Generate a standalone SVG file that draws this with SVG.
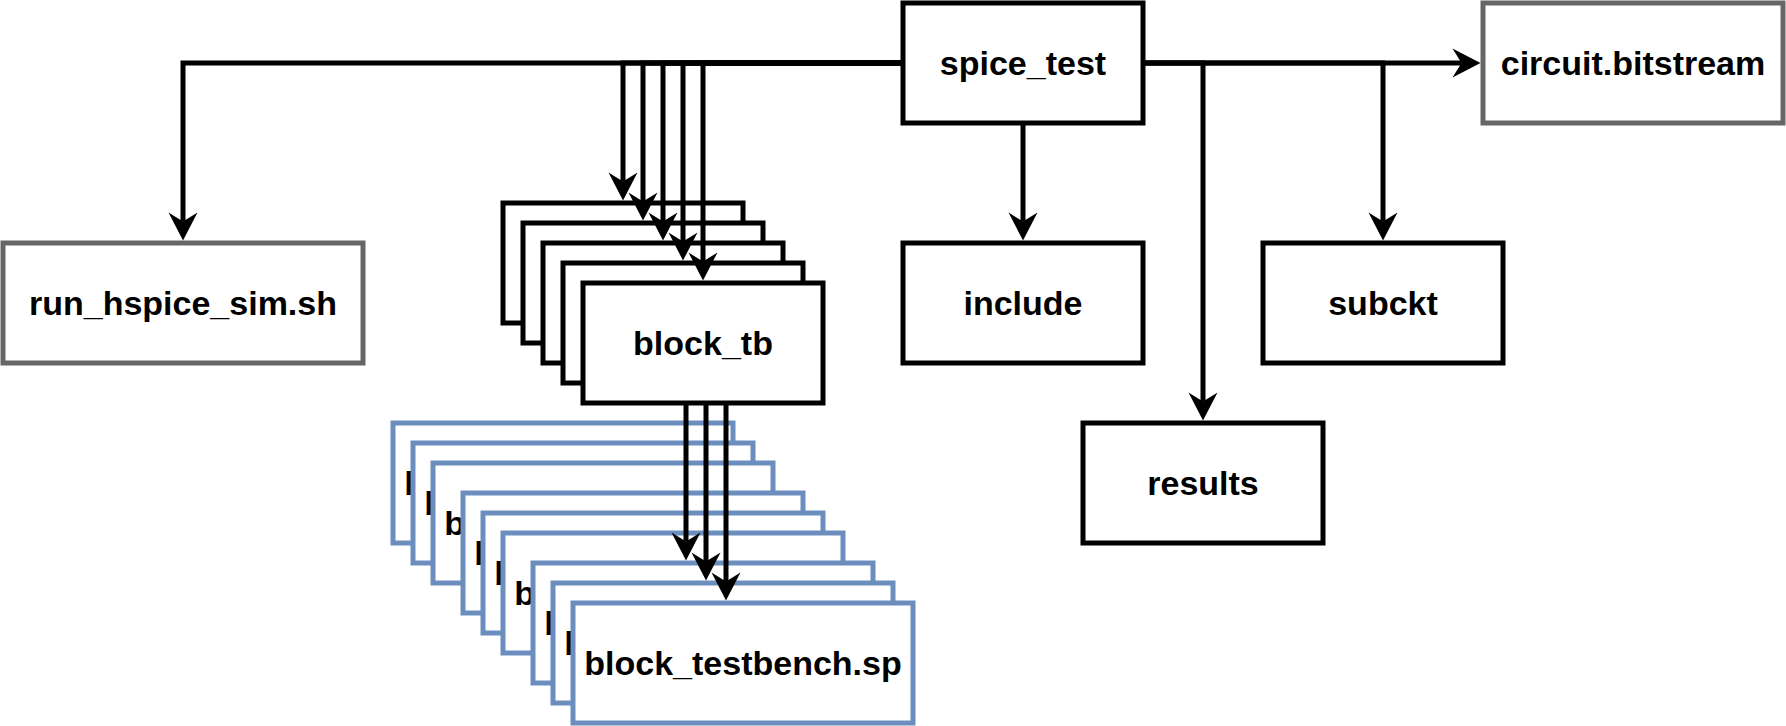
<svg xmlns="http://www.w3.org/2000/svg" width="1786" height="726" viewBox="0 0 1786 726">
<style>
  .box { fill: #ffffff; stroke: #000000; stroke-width: 5; }
  .gray { fill: #ffffff; stroke: #666666; stroke-width: 5; }
  .blue { fill: #ffffff; stroke: #6c8ebf; stroke-width: 5; }
  .lbl { font-family: "Liberation Sans", Arial, Helvetica, sans-serif; font-weight: bold; font-size: 34px; fill: #000000; text-anchor: middle; }
  .edge { fill: none; stroke: #000000; stroke-width: 5; marker-end: url(#arr); }
</style>
<defs>
  <marker id="arr" markerUnits="userSpaceOnUse" viewBox="-10 -16 31 32" markerWidth="31" markerHeight="32" refX="0" refY="0" orient="auto" overflow="visible">
    <path d="M19,0 L-9,-14.5 L0,0 L-9,14.5 Z" fill="#000000"/>
  </marker>
</defs>
<rect width="1786" height="726" fill="#ffffff"/>

<g id="spice_test"><rect class="box" x="903" y="3" width="240" height="120"/><text class="lbl" x="1023" y="75">spice_test</text></g>
<g id="circuit_bitstream"><rect class="gray" x="1483" y="3" width="300" height="120"/><text class="lbl" x="1633" y="75">circuit.bitstream</text></g>
<g id="run_hspice_sim"><rect class="gray" x="3" y="243" width="360" height="120"/><text class="lbl" x="183" y="315">run_hspice_sim.sh</text></g>
<g id="include"><rect class="box" x="903" y="243" width="240" height="120"/><text class="lbl" x="1023" y="315">include</text></g>
<g id="subckt"><rect class="box" x="1263" y="243" width="240" height="120"/><text class="lbl" x="1383" y="315">subckt</text></g>
<g id="results"><rect class="box" x="1083" y="423" width="240" height="120"/><text class="lbl" x="1203" y="495">results</text></g>

<g id="block_tb_1"><rect class="box" x="503" y="203" width="240" height="120"/><text class="lbl" x="623" y="275">block_tb</text></g>
<g id="block_tb_2"><rect class="box" x="523" y="223" width="240" height="120"/><text class="lbl" x="643" y="295">block_tb</text></g>
<g id="block_tb_3"><rect class="box" x="543" y="243" width="240" height="120"/><text class="lbl" x="663" y="315">block_tb</text></g>
<g id="block_tb_4"><rect class="box" x="563" y="263" width="240" height="120"/><text class="lbl" x="683" y="335">block_tb</text></g>
<g id="block_tb_5"><rect class="box" x="583" y="283" width="240" height="120"/><text class="lbl" x="703" y="355">block_tb</text></g>

<g id="tb_1"><rect class="blue" x="393" y="423" width="340" height="120"/><text class="lbl" x="563" y="495">block_testbench.sp</text></g>
<g id="tb_2"><rect class="blue" x="413" y="443" width="340" height="120"/><text class="lbl" x="583" y="515">block_testbench.sp</text></g>
<g id="tb_3"><rect class="blue" x="433" y="463" width="340" height="120"/><text class="lbl" x="603" y="535">block_testbench.sp</text></g>
<g id="tb_4"><rect class="blue" x="463" y="493" width="340" height="120"/><text class="lbl" x="633" y="565">block_testbench.sp</text></g>
<g id="tb_5"><rect class="blue" x="483" y="513" width="340" height="120"/><text class="lbl" x="653" y="585">block_testbench.sp</text></g>
<g id="tb_6"><rect class="blue" x="503" y="533" width="340" height="120"/><text class="lbl" x="673" y="605">block_testbench.sp</text></g>
<g id="tb_7"><rect class="blue" x="533" y="563" width="340" height="120"/><text class="lbl" x="703" y="635">block_testbench.sp</text></g>
<g id="tb_8"><rect class="blue" x="553" y="583" width="340" height="120"/><text class="lbl" x="723" y="655">block_testbench.sp</text></g>
<g id="tb_9"><rect class="blue" x="573" y="603" width="340" height="120"/><text class="lbl" x="743" y="675">block_testbench.sp</text></g>

<g id="connectors">
  <path class="edge" d="M903,63 H183 V221.5"/>
  <path class="edge" d="M903,63 H623 V181.5"/>
  <path class="edge" d="M903,63 H643 V201.5"/>
  <path class="edge" d="M903,63 H663 V221.5"/>
  <path class="edge" d="M903,63 H683 V241.5"/>
  <path class="edge" d="M903,63 H703 V261.5"/>
  <path class="edge" d="M1143,63 H1461.5"/>
  <path class="edge" d="M1143,63 H1203 V401.5"/>
  <path class="edge" d="M1143,63 H1383 V221.5"/>
  <path class="edge" d="M1023,123 V221.5"/>
  <path class="edge" d="M686,403 V541.5"/>
  <path class="edge" d="M706,403 V561.5"/>
  <path class="edge" d="M726,403 V581.5"/>
</g>
</svg>
